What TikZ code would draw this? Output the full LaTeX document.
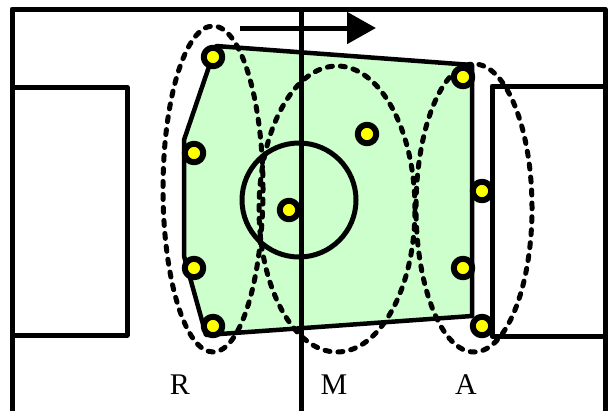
\documentclass[tikz,border=0pt]{standalone}
\usepackage{fontspec}
\setmainfont{Liberation Serif}
\usepackage{tikz}
\usetikzlibrary{arrows.meta}

\begin{document}
\begin{tikzpicture}[
    x=1pt, y=-1pt,
    line join=round,
]
\definecolor{blockGreen}{HTML}{CCFFCC}
\definecolor{playerYellow}{HTML}{FFFF00}

\tikzset{
    pitchline/.style={draw=black, line width=5pt},
    block/.style={fill=blockGreen, draw=black, line width=4.5pt},
    zone/.style={draw=black, line width=5pt, dash pattern=on 5pt off 8pt, line cap=round},
    player/.style={circle, draw=black, fill=playerYellow, line width=6pt,
        minimum size=18.5pt, inner sep=0pt},
    zonelabel/.style={anchor=base, font=\fontsize{30}{32}\selectfont},
    playdir/.style={line width=5pt, -{Triangle[length=29pt, width=31pt]}},
}

\useasboundingbox (0,0) rectangle (609,410);

% team block
\fill[blockGreen] (216,46) -- (184,140) -- (184,256) -- (206,335)
    -- (472,316) -- (472,65) -- cycle;

% pitch markings
\draw[pitchline] (12,412) -- (12,9) -- (605,9) -- (605,412);
\draw[pitchline] (301,9) -- (301,412);
\draw[pitchline] (12,87) -| (127,335) -- (12,335);
\draw[pitchline] (605,86) -| (492,336) -- (605,336);
\draw[pitchline] (299,200) circle [radius=57pt];

\draw[block, fill=none] (216,46) -- (184,140) -- (184,256) -- (206,335)
    -- (472,316) -- (472,65) -- cycle;

% lines R, M, A
\draw[zone] (213,189) ellipse [x radius=50pt, y radius=163pt];
\draw[zone] (337,209) ellipse [x radius=78pt, y radius=143pt];
\draw[zone] (474,208) ellipse [x radius=58pt, y radius=144pt];

\node[player] (p1) at (213,57) {};
\node[player] (p2) at (194,153) {};
\node[player] (p3) at (194,268) {};
\node[player] (p4) at (213,326) {};
\node[player] (p5) at (289,210) {};
\node[player] (p6) at (367,134) {};
\node[player] (p7) at (463,77) {};
\node[player] (p8) at (482,191) {};
\node[player] (p9) at (463,268) {};
\node[player] (p10) at (482,326) {};

\coordinate (dirStart) at (240,28);
\coordinate (dirEnd) at (376,28);
\draw[playdir] (dirStart) -- (dirEnd);

\node[zonelabel] (labelR) at (180,394) {R};
\node[zonelabel] (labelM) at (334,394) {M};
\node[zonelabel] (labelA) at (466,394) {A};

\end{tikzpicture}
\end{document}
